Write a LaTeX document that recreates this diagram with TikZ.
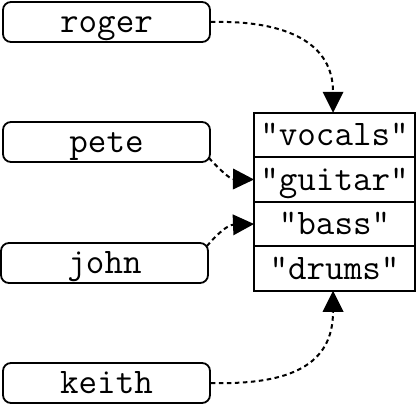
\documentclass[tikz,border=0pt]{standalone}
\usetikzlibrary{arrows.meta}
\begin{document}
\begin{tikzpicture}[x=1pt,y=1pt,
  every node/.style={font=\ttfamily\fontsize{36}{36}\selectfont, text height=23pt, text depth=2pt, inner sep=0pt},
  namebox/.style={draw, line width=1.8pt, rounded corners=8pt, minimum width=207pt, minimum height=40pt},
  cell/.style={draw, line width=2.2pt, outer sep=0pt, minimum width=161pt, minimum height=44.5pt},
  link/.style={line width=2pt, dash pattern=on 4.5pt off 3.5pt, -{Triangle[length=21pt,width=21pt,line width=0pt]}}
]
\useasboundingbox (0,0) rectangle (419,405);
\node[namebox] (roger) at (106.5,383) {roger};
\node[namebox] (pete)  at (106.5,263) {pete};
\node[namebox] (john)  at (104.5,142) {john};
\node[namebox] (keith) at (106.5,22) {keith};
\node[cell] (vocals) at (334.5,270) {"vocals"};
\node[cell, anchor=north] (guitar) at (vocals.south) {"guitar"};
\node[cell, anchor=north] (bass) at (guitar.south) {"bass"};
\node[cell, anchor=north] (drums) at (bass.south) {"drums"};
\draw[link] (roger.east) .. controls (290,385) and (333,360) .. ([xshift=-1.5pt]vocals.north);
\draw[link] ([shift={(-2pt,5pt)}]pete.south east) .. controls (220,235) and (230,226) .. (guitar.west);
\draw[link] ([shift={(-2pt,-4pt)}]john.north east) .. controls (218,172) and (228,180) .. (bass.west);
\draw[link] (keith.east) .. controls (290,20) and (333,40) .. ([xshift=-1.5pt]drums.south);
\end{tikzpicture}
\end{document}
